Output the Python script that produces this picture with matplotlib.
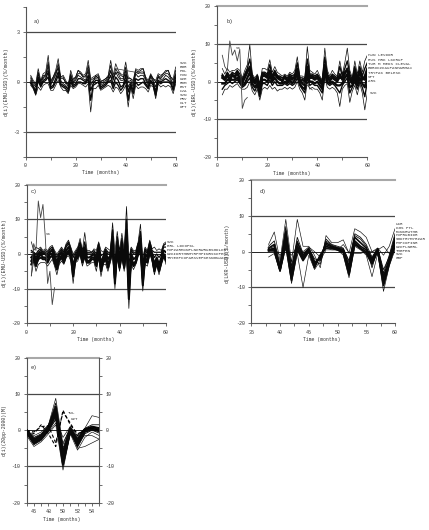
import matplotlib
matplotlib.use("Agg")
import matplotlib.pyplot as plt
from matplotlib.ticker import FixedLocator, NullFormatter

W, H = 429, 530
MONO = "Liberation Mono"

# Monthly deviations, panel a (months 2 to 60)
a_months = list(range(2, 61))
a_1 = [.4,.1,-.1,.8,.1,.5,.6,1.6,.1,.3,.7,1.4,.3,.4,.1,-.2,.7,.2,.3,.7,.6,.4,.5,1.3,.2,.3,.4,.5,.1,.1,.2,.4,1.3,.4,1.1,.7,.5,.4,1.2,.3,.2,.1,.8,.7,.8,.8,.3,.1,.5,.2,.1,.5,.4,.5,.7,.7,.3,.2,.9]
a_2 = [-.2,-.4,-.8,-.3,-.5,-.2,-.1,-.1,-.5,-.5,-.2,.1,-.3,-.5,-.5,-.7,-.2,-.4,-.3,-.1,-.1,-.2,-.3,-.1,-1.8,-.4,-.4,-.2,-.5,-.4,-.3,-.2,-.3,-.6,-.3,-.4,-.7,-.5,-.2,-1.5,-.3,-1.0,-.2,-.4,-.3,-.3,-.4,-.6,-.2,-.3,-1.0,-.1,-.3,-.2,-.3,-.2,-.3,-.7,-.1]
a_3 = [.1,-.2,-.5,.5,-.1,.3,.3,1.0,-.2,.1,.4,.9,.1,-.1,-.2,-.5,.4,-.1,.1,.4,.3,.2,.1,.8,-.2,.1,.2,.3,-.2,-.1,0,.2,.7,.1,.6,.3,.1,.1,.7,-.3,0,-.3,.5,.3,.4,.4,.1,-.2,.3,0,-.5,.3,.1,.2,.4,.3,.1,-.2,.5]
a_4 = [0,-.3,-.6,.3,-.2,.1,.2,.6,-.3,-.2,.2,.6,-.1,-.2,-.3,-.4,.2,-.2,-.1,.2,.2,.1,0,.4,-.5,-.1,.1,.1,-.3,-.2,-.1,.1,.4,-.2,.3,.1,-.3,-.2,.4,-.6,-.1,-.5,.2,.1,.2,.2,-.1,-.3,.1,-.1,-.7,.1,0,.1,.2,.1,0,-.4,.3]
a_5 = [.2,-.1,-.3,.6,0,.4,.4,1.2,-.1,.2,.5,1.1,.2,.2,0,-.3,.5,0,.2,.5,.5,.3,.3,1.0,.1,.2,.3,.4,-.1,0,.1,.3,1.0,.2,.8,.5,.2,.2,.9,0,.1,-.2,.6,.5,.6,.6,.2,-.1,.4,.1,-.3,.4,.2,.4,.5,.5,.2,-.1,.7]
a_6 = [-.1,-.3,-.7,.1,-.3,0,.1,.3,-.4,-.3,0,.4,-.2,-.3,-.4,-.6,0,-.3,-.2,0,0,-.1,-.1,.2,-1.1,-.2,-.1,0,-.4,-.3,-.2,0,.1,-.4,0,-.2,-.5,-.3,.1,-1.1,-.2,-.7,0,-.2,-.1,0,-.2,-.4,0,-.2,-.8,0,-.1,0,0,0,-.1,-.5,.1]
a_7 = [.3,0,-.2,.2,.1,.2,.5,.7,0,.3,.6,.8,.3,.3,-.1,-.1,.3,.1,.3,.7,.5,.3,.4,.6,0,0,.4,.2,0,.1,.2,.3,.6,.3,.5,.6,.4,.3,.5,.2,.2,0,.7,.6,.7,.8,.2,0,.4,.2,0,.3,.3,.5,.6,.7,.3,.1,.4]
a_gap_months = [36, 47]
a_gap = [.8, .5]
a_names = ["SVK", "BGR", "POL", "HUN", "CZE", "ROM", "EST", "LVA", "SVN", "HRV", "CLT", "OPT"]

# Panel b
b_months = list(range(2, 61))
b_1 = [3.5,2,3.5,2.5,3,3,3.5,3,1,3,4.5,9.8,2,1,2,-.5,3.5,3.5,3,5.8,2.5,4,2.5,2,1.5,2,1.5,2.5,2,3,6.6,1.5,1.5,1,9.3,3,2.5,2,3,1.5,.5,8.9,3,1.5,3,2,1.5,5.5,2,5,8.9,3,1,5.5,2,5.5,2.5,5.5,7]
b_2 = [-3.5,-2,-2,-1,-1.5,-1,-.5,-1.5,-2,-2,-1.5,0,-2.5,-3.5,-2,-4.9,-2,-1.5,-2,-1,-2,-1.5,-2.5,-2,-2,-1.5,-2,-1.5,-2,-1.5,0,-2,-3,-4.9,0,-2,-1.5,-2,-2,-3,-4.9,1,-1.5,-2,-1.5,-2,-3,-6.6,-2,-1,-.5,-5.5,-2.5,-1,-3.5,-.5,-3,-7.5,-3]
b_3 = [2,1,2.5,1.5,2.5,2,3,2,.5,2,3.5,6,1.5,.5,1,-1,2.5,2.5,2,4.5,1.5,3,1.5,1.5,1,1.5,1,2,1.5,2,5,1,1,.5,6,2,2,1.5,2,1,0,6.5,2,1,2,1.5,1,4,1.5,3.5,5.5,2,.5,4,1,4,1.5,3.5,5]
b_4 = [1,.5,1.5,1,1.5,1.5,2,1,0,1,2.5,4,.5,-.5,.5,-2,1.5,1.5,1,3,1,2,1,.5,.5,1,.5,1,.5,1.5,3.5,.5,-.5,-1,4,1,1,.5,1,0,-1,4.5,1,.5,1,.5,0,2,.5,2,3.5,.5,-.5,2.5,0,2.5,.5,1.5,3.5]
b_5 = [-.5,-.5,.5,.5,.5,.5,1,0,-1,-.5,1,2.5,-.5,-1.5,-.5,-3,.5,.5,0,1.5,0,1,0,-.5,-.5,0,-.5,.5,-.5,.5,2,-.5,-1.5,-2,2,0,0,-.5,0,-1,-2,3,0,-.5,0,-.5,-1,-1,-.5,1,2,-1.5,-1,1,-1,1,-.5,-1.5,1.5]
b_6 = [-2,-1,-.5,0,-.5,0,.5,-.5,-1.5,-1,0,1,-1.5,-2.5,-1,-4,-.5,-.5,-1,.5,-1,0,-1,-1,-1,-.5,-1,-.5,-1,-.5,1,-1,-2,-3,1,-1,-.5,-1,-1,-2,-3,2,-.5,-1,-.5,-1,-2,-3,-1,0,1,-3,-1.5,0,-2,0,-1.5,-4,0]
b_7 = [1.5,.5,2,0,2,1,2.5,.5,-.5,1.5,3,3,1,0,1.5,-1.5,2,2,1.5,2.5,.5,2.5,1.5,1,0,1.5,0,1.5,1,1,3,0,.5,0,3,1.5,1.5,1,1.5,.5,-.5,3.5,1.5,0,1.5,1,.5,1,1,2.5,3,1,0,3,.5,3,1,.5,2.5]
b_svk_months = list(range(2, 13))
b_svk = [7, 4, 3, 10.8, 7, 8.4, 5.5, 8.6, -7.1, -4.9, -4.2]
b_gap_months = [34, 38]
b_gap = [.2, -2.2]
b_rows = ["HUN LEVDOR", "RUS HRK LKKRUP", "TUR M MEDS CLEVAL", "BGROCZKAUPANHARMAX", "TRYPAK BELESK", "SPT", "ARS"]

# Panel c
c_months = list(range(2, 61))
c_1 = [3.5,1,2,1.5,2,1,1.5,1,2,2.5,1,0,1,2,1,3,4,2,0,1,2,4.5,1,6.2,1,1,.5,1.5,1,3.5,1,.5,2,1.5,1,9,.5,6.5,1,6,1,13.7,-1,2,1,1,3.5,8.6,-1,2,1,4,1.5,2,1,1.5,1,3,3.5]
c_2 = [-6.3,-2,-5,-3,-2.5,-2.5,-2.5,-3.5,-2.5,-1.5,-3.5,-6,-3,-2,-3,-1,-.5,-2,-8.5,-2.5,-2,0,-3.5,-1,-3.5,-3,-2.5,-2.5,-5,-1,-6.5,-3,-3,-5,-2.5,0,-10,-1,-5,-1,-5,1,-15.7,-3,-4.5,-3,-.5,0,-10.7,-3,-3.5,0,-2,-6,-3,-6,-3,-.5,-3]
c_3 = [1,.5,-1,.5,1,.5,.5,0,1,1.5,0,-2,0,1,0,2,3,1,-3,0,1,3,0,3.5,0,0,0,.5,-1,2.5,-2,-.5,1,0,0,7,-5,5,-1,4.5,-1,10,-7,1,0,0,2.5,6.5,-5,1,0,3,.5,-1,0,-1,0,2,2]
c_4 = [-1,0,-2,0,.5,0,0,-1,.5,1,-1,-3,-.5,.5,-1,1,2,.5,-5,-1,.5,2,-1,2,-1,-1,-.5,0,-2,1.5,-3.5,-1,.5,-1.5,-.5,5,-7,3.5,-2,3,-2,7,-10,0,-1.5,-1,1.5,4.5,-7,0,-1,2,0,-3,-1,-3,-1,1,.5]
c_5 = [-3,-1,-3.5,-1,0,-1,-1,-2,0,0,-2,-4,-1.5,-.5,-2,0,1,-.5,-6.5,-1.5,-.5,1,-2,1,-2,-2,-1,-1,-3,.5,-5,-2,-.5,-3,-1,3,-8.5,2,-3.5,1.5,-3.5,4,-13,-1,-3,-2,.5,2.5,-9,-1,-2,1,-1,-4.5,-2,-4.5,-2,0,-1]
c_6 = [.5,.5,0,1,1.5,.5,1,.5,1.5,2,.5,-1,.5,1.5,.5,2.5,3.5,1.5,-1,.5,1.5,3.5,.5,1.5,.5,.5,.5,1,0,3,-.5,0,1.5,.5,.5,2,-2.5,3,0,2,0,3,-3,1.5,.5,.5,3,3,-3,1.5,.5,3.5,1,.5,.5,.5,.5,2.5,3]
c_7 = [-2,-.5,-3,-1.5,-1,-1.5,-1.5,-2.5,-1,-.5,-2.5,-4.5,-2,-1,-2.5,-.5,.5,-1,-4,-2,-1,.5,-2.5,-.5,-2.5,-2.5,-1.5,-1.5,-3.5,0,-4,-2.5,-1.5,-4,-1.5,1,-6,.5,-4,0,-4,2,-8,-2,-3.5,-2.5,0,1,-6,-2,-2.5,.5,-1,-5,-2.5,-5,-2.5,-.5,-2]
c_svk_months = list(range(2, 13))
c_svk = [-6.3, 3, 1, 15.3, 10.5, 14.3, 5, -8.5, -5, -14.6, -9.7]
c_rows = ["SVK", "BRL LDCOPKL", "HUFZARMXNPLNKRWRUBSGDLKRT", "CZKIDRTHBMYRPHPINRSKKPENA", "TRYEGPCOPARSVEFKESNGNUAHM"]

# Panel d (months 38 to 60)
d_months = list(range(38, 61))
d_1 = [2,5.5,-2.5,9,-3,9,1.5,1.5,-1,-4.5,4.5,2.5,2.5,3.3,-.5,6.4,5.5,4,0,1,-1,1.5,6.4]
d_2 = [-1.5,-.5,-5.6,1,-8.9,-.5,-10,-1,-5,-2.5,.5,.5,.5,-1,-7.3,1.5,.5,-1,-7,-.5,-11.1,-4,.5]
d_3 = [1.5,3,-3.5,7,-5,4,-.5,1,-2,-2.5,3.5,2,1.5,1,-3,5,4,2,-1.5,1,-6,-1,5]
d_4 = [1,2,-4.5,5.5,-6,2.5,-1,.8,-3,-2,2.5,1.5,1,.5,-4,4,2.5,1,-2,.8,-7,-2,4]
d_5 = [.5,1,-5,4,-7,1.5,-1.5,.5,-3.5,-1.5,2,1.3,.8,.2,-5,3,1.5,.5,-2.5,.5,-8,-2.5,3]
d_6 = [.5,.5,-5.2,3,-7.5,1,-2,.3,-4,-1,1.5,1,.5,0,-6,2.5,1,0,-3,.3,-9,-3,2]
d_7 = [.2,.2,-5.4,2,-8,.5,-2.5,0,-4.5,-1,1,1,.5,-.3,-6.5,2,.8,-.5,-3.5,.2,-9.5,-3.5,1.5]
d_8 = [0,1,-1,.5,-1,1.5,0,1.3,0,-1.5,1,.5,.5,2,-.3,-.5,-.5,0,0,.5,1.5,-.5,-.3]
d_9 = [.8,1.5,-4,6,-4,3,-1,1,-2.5,-3.5,3,1.8,1.2,.8,-2.5,4.5,3.5,1.5,-4.5,.9,-5,-1.5,3.5]
d_rows = ["LKR", "KGS PTL", "MXNKRWTHB", "HUFRUBIDR", "SGDTRYMYRZAR", "PHPCOPINR", "CZKPLNBRL", "THBPEN", "SVK", "GBP"]

# Panel e (months 45 to 55)
e_months = list(range(45, 56))
e_1 = [0,-1.5,-.5,1.5,8.8,-4,1,-1.5,.5,4,3.5]
e_2 = [0,-2,-1,1.3,7.5,-5,.8,-2,.5,1.5,1.5]
e_3 = [0,-2.5,-1.3,1,6.5,-6,.5,-2.5,.3,1,.6]
e_4 = [0,-2.8,-1.5,.8,6,-7,.3,-3,.2,.8,.3]
e_5 = [0,-3,-1.7,.7,5.5,-8,.2,-3.3,0,.6,.1]
e_6 = [-.3,-3.2,-2,.5,5,-8.5,0,-3.5,0,.4,0]
e_7 = [-.5,-3.5,-2.2,.3,4.5,-9,-.2,-3.8,-.3,.3,-.2]
e_8 = [-.7,-3.7,-2.5,0,4,-9.5,-.4,-4.2,-.5,.2,-.3]
e_9 = [-1,-4,-2.8,-.3,3,-10,-.6,-4.7,-1,0,-.8]
e_10 = [-1.5,-4.5,-3.2,-1,1.5,-11,-1,-5.5,-2,-.5,-1.5]
e_11 = [-.5,-2.5,-2,-.5,2,-3.5,.5,-5,-4.5,-3.5,-2.5]
e_12 = [0,-2,-1.5,0,3,-2,1,-3,-1.5,-1.5,-2.5]
e_tul = [0,-1,1.5,-1,-4.5,5.5,1.5,-1,0,1,.5]
e_czt = [0,-.5,1,1.2,-3.5,5,2,-1.5,.2,.5,0]


def add_panel(box, xlim, ylim):
    left, top, right, bottom = box
    ax = plt.gcf().add_axes([left / W, 1 - bottom / H, (right - left) / W, (bottom - top) / H])
    ax.set_xlim(*xlim)
    ax.set_ylim(*ylim)
    ax.patch.set_alpha(0)
    for side in ("top", "right"):
        ax.spines[side].set_visible(False)
    for side in ("left", "bottom"):
        ax.spines[side].set_linewidth(0.8)
        ax.spines[side].set_color("#555555")
    ax.tick_params(which="both", length=2.0, width=0.6, color="#555555", pad=2.5,
                   labelsize=3.6, labelcolor="#333333")
    return ax


def set_ticks(ax, xmajor, xminor, ymajor, yminor):
    ax.set_xticks(xmajor, labels=[str(v) for v in xmajor], family=MONO, fontsize=3.6)
    ax.set_yticks(ymajor, labels=[str(v) for v in ymajor], family=MONO, fontsize=3.6)
    ax.xaxis.set_minor_locator(FixedLocator(xminor))
    ax.yaxis.set_minor_locator(FixedLocator(yminor))
    ax.xaxis.set_minor_formatter(NullFormatter())
    ax.yaxis.set_minor_formatter(NullFormatter())


def levels(ax, lines, zero, top=None):
    for v in lines:
        ax.axhline(v, color="#484848", lw=0.9, zorder=1)
    ax.axhline(zero, color="#222222", lw=0.7, zorder=1)
    if top is not None:
        ax.axhline(top, color="#a8a8a8", lw=1.5, zorder=1, clip_on=False)


def bundle(ax, months, thin, mid, core, widths=(0.45, 0.8, 1.4)):
    # Outer members stay hairline; the central members merge into a dark band.
    for group, lw in zip((thin, mid, core), widths):
        for s in group:
            ax.plot(months, s, color="#0a0a0a", lw=lw, zorder=3)


def fig_text(x, y, s, size=3.4, **kw):
    kw.setdefault("ha", "left")
    kw.setdefault("va", "center")
    plt.gcf().text(x / W, 1 - y / H, s, family=MONO, fontsize=size, color="#333333", **kw)


fig = plt.figure(figsize=(W / 100, H / 100), dpi=100, facecolor="white")

# a)
ax = add_panel((25.7, 7, 175.7, 157), (0, 60), (-4.5, 4.5))
set_ticks(ax, [0, 20, 40, 60], [10, 30, 50], [-3, 0, 3], [-4.5, -1.5, 1.5, 4.5])
levels(ax, [-3, 3], 0)
bundle(ax, a_months, (a_1, a_2), (a_3, a_5, a_7), (a_4, a_6), widths=(0.5, 0.6, 1.0))
ax.plot(a_gap_months, a_gap, color="#333333", lw=0.5, zorder=3)
fig_text(34, 21, "a)", 4.0)
fig_text(6, 82, "d(i)(EMU-USD)(%/month)", 3.7, rotation=90, ha="center")
fig_text(100.7, 172.7, "Time (months)", ha="center")
for i, name in enumerate(a_names):
    fig_text(180, 63 + i * 4.0, name, 3.0)

# b)
ax = add_panel((217.3, 6.3, 367.3, 157), (0, 60), (-20, 20))
set_ticks(ax, [0, 20, 40, 60], [10, 30, 50], [-20, -10, 0, 10, 20], [-15, -5, 5, 15])
levels(ax, [-10, 10], 0, top=20)
bundle(ax, b_months, (b_1, b_2), (b_3, b_6), (b_4, b_5, b_7), widths=(0.5, 1.0, 1.6))
ax.plot(b_svk_months, b_svk, color="#444444", lw=0.6, zorder=3)
ax.plot(b_gap_months, b_gap, color="#333333", lw=0.5, zorder=3)
fig_text(227, 21, "b)", 4.0)
fig_text(194.3, 82, "d(i)(BRL-USD)(%/month)", 3.7, rotation=90, ha="center")
fig_text(292, 173, "Time (months)", ha="center")
fig_text(236, 47.7, "SK", 3.0)
for i, row in enumerate(b_rows):
    fig_text(368, 55.5 + i * 4.3, row, 3.0)
fig_text(370, 93, "SVK", 3.0)

# c)
ax = add_panel((26.7, 184.7, 166, 323.3), (0, 60), (-20, 20))
set_ticks(ax, [0, 20, 40, 60], [10, 30, 50], [-20, -10, 0, 10, 20], [-15, -5, 5, 15])
levels(ax, [-10, 10], 0, top=20)
bundle(ax, c_months, (c_1, c_2), (c_3, c_6), (c_4, c_5, c_7), widths=(0.5, 0.9, 1.5))
ax.plot(c_svk_months, c_svk, color="#444444", lw=0.6, zorder=3)
fig_text(31, 192, "c)", 4.0)
fig_text(4.3, 253, "d(i)(EMU-USD)(%/month)", 3.7, rotation=90, ha="center")
fig_text(96, 339, "Time (months)", ha="center")
fig_text(46, 234, "SK", 3.0)
for i, row in enumerate(c_rows):
    fig_text(167, 242 + i * 4.0, row, 3.0)

# d)
ax = add_panel((251.3, 180, 395, 323.3), (35, 60), (-20, 20))
set_ticks(ax, [35, 40, 45, 50, 55, 60], [37.5, 42.5, 47.5, 52.5, 57.5], [-20, -10, 0, 10, 20], [-15, -5, 5, 15])
levels(ax, [-10, 10], 0, top=20)
bundle(ax, d_months, (d_1, d_2, d_8), (d_3, d_9), (d_4, d_5, d_6, d_7), widths=(0.45, 0.6, 1.2))
fig_text(260, 192, "d)", 4.0)
fig_text(227, 253, "d(LKR-USD)(%/month)", 3.7, rotation=90, ha="center")
fig_text(322, 339, "Time (months)", ha="center")
for i, row in enumerate(d_rows):
    fig_text(395.5, 224 + i * 3.8, row, 3.0)

# e)
ax = add_panel((26.7, 357.7, 99.3, 502.7), (45, 55), (-20, 20))
set_ticks(ax, [46, 48, 50, 52, 54], [45, 47, 49, 51, 53, 55], [-20, -10, 0, 10, 20], [-15, -5, 5, 15])
levels(ax, [-10, 10], 0, top=20)
ax.spines["right"].set_visible(True)
ax.spines["right"].set_linewidth(0.8)
ax.spines["right"].set_color("#555555")
ax.tick_params(axis="y", which="both", right=True, labelright=True)
for lab in ax.get_yticklabels():
    lab.set_family(MONO)
bundle(ax, e_months, (e_1, e_10, e_11, e_12), (e_2, e_9), (e_3, e_4, e_5, e_6, e_7, e_8), widths=(0.45, 0.6, 1.3))
ax.plot(e_months, e_tul, color="#000000", lw=0.8, ls=(0, (3, 2)), zorder=4)
ax.plot(e_months, e_czt, color="#000000", lw=0.8, ls=(0, (3, 2)), zorder=4)
fig_text(31, 368, "e)", 4.0)
fig_text(4.3, 430, "d(i)(20pp-2000)(M)", 3.5, rotation=90, ha="center")
fig_text(62, 519, "Time (months)", ha="center")
fig_text(68, 413.5, "TUL", 3.0)
fig_text(71, 418.5, "CZT", 3.0)

fig.savefig("out.png", dpi=100, facecolor="white")
